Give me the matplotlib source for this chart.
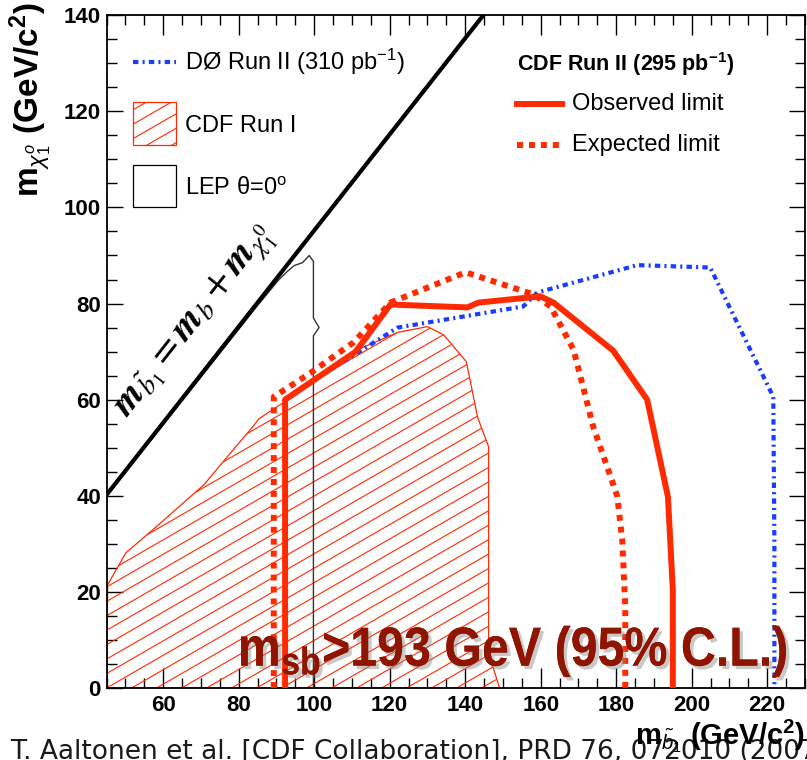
import matplotlib
matplotlib.use('Agg')
import matplotlib.pyplot as plt
import matplotlib.patheffects as pe
from matplotlib.patches import Polygon, Rectangle, PathPatch
from matplotlib.textpath import TextPath
from matplotlib.font_manager import FontProperties
from matplotlib.transforms import Affine2D, IdentityTransform
from matplotlib.ticker import MultipleLocator
import numpy as np

# fonts: Helvetica-like for everything, mathtext follows it
plt.rcParams.update({
    'font.family': ['Liberation Sans', 'DejaVu Sans'],
    'mathtext.fontset': 'custom',
    'mathtext.rm': 'Liberation Sans',
    'mathtext.it': 'Liberation Sans:italic',
    'mathtext.bf': 'Liberation Sans:bold',
})

RED = '#ff2a00'
BLUE = '#1a3cff'
DARKRED = '#8f1500'

# data (GeV/c^2)
obs_x = [92.3, 92.3, 111.0, 120.2, 140.6, 143.5, 159.9, 163.4, 179.2, 188.2, 193.7, 195.0, 195.0]
obs_y = [0, 60.0, 70.0, 79.8, 79.2, 80.2, 81.5, 80.2, 70.2, 60.0, 39.8, 20.4, 0]

exp_x = [89.3, 89.3, 99.1, 110.4, 120.2, 140.1, 158.1, 162.6, 168.7, 173.9, 178.5, 180.3, 181.6, 182.4, 182.4]
exp_y = [0, 60.6, 65.6, 71.9, 80.2, 86.5, 81.9, 79.4, 70.4, 54.4, 44.0, 39.8, 30.8, 16.9, 0]

d0_x = [93.8, 97.2, 122.1, 155.4, 159.1, 185.6, 204.9, 221.6, 221.9, 221.9]
d0_y = [60.6, 62.7, 75.0, 79.4, 82.3, 88.0, 87.5, 60.6, 30.0, 0]

run1_x = [45, 45.3, 50.1, 58.1, 70.8, 77.4, 84.0, 85.3, 91.9, 111.5, 122.1, 130.0,
          134.3, 140.3, 143.3, 146.2, 146.2, 149.1]
run1_y = [0, 21.5, 28.1, 33.5, 42.3, 48.5, 54.6, 56.0, 59.4, 70.4, 74.0, 75.2,
          73.5, 67.9, 56.3, 50.2, 7.3, 0]

lep_x = [45, 85.0, 90.7, 92.9, 94.7, 96.9, 98.7, 99.3, 99.8, 99.8, 101.3, 99.8, 99.8]
lep_y = [39.9, 79.6, 85.0, 86.7, 87.9, 88.5, 90.0, 89.3, 88.8, 77.0, 75.0, 73.3, 0]

# m_stop = m_b + m_chi
kin_x = [45, 144.8]
kin_y = [40.2, 140]

fig = plt.figure(figsize=(8.07, 7.6), dpi=100)
ax = fig.add_axes([0.132, 0.0947, 0.8655, 0.8853])
AX_W, AX_H = 0.8655 * 807, 0.8853 * 760


def hatch(patch, spacing=25, angle=30, lw=0.8):
    # slanted hatch lines clipped to a patch (spacing/angle in pixels)
    ux = np.cos(np.radians(angle)) / AX_W
    uy = np.sin(np.radians(angle)) / AX_H
    for k in np.arange(-120, 60):
        x0 = k * spacing / AX_W
        t = np.array([-3000, 3000])
        ln, = ax.plot(x0 + t * ux, t * uy, color=RED, lw=lw, transform=ax.transAxes, zorder=2)
        ln.set_clip_path(patch)


# CDF Run I excluded region
poly = Polygon(np.column_stack([run1_x, run1_y]), closed=True, fill=False,
               edgecolor=RED, lw=0.9, zorder=2)
ax.add_patch(poly)
hatch(poly)

DASHDOT = (0, (1.3, 1.0, 0.5, 1.0))
ax.plot(lep_x, lep_y, color='#333333', lw=1.0, zorder=3)
ax.plot(kin_x, kin_y, color='k', lw=3.0, zorder=3)
ax.plot(d0_x, d0_y, color=BLUE, lw=3.0, linestyle=DASHDOT, zorder=4)
ax.plot(exp_x, exp_y, color=RED, lw=4.3, linestyle=(0, (1, 1)), zorder=5)
ax.plot(obs_x, obs_y, color=RED, lw=4.3, zorder=6)

ax.set_xlim(45, 230)
ax.set_ylim(0, 140)
ax.xaxis.set_major_locator(MultipleLocator(20))
ax.xaxis.set_minor_locator(MultipleLocator(5))
ax.yaxis.set_major_locator(MultipleLocator(20))
ax.yaxis.set_minor_locator(MultipleLocator(5))
ax.tick_params(which='both', direction='in', top=True, right=True, width=1.0)
ax.tick_params(axis='x', which='major', length=14.4, pad=5)
ax.tick_params(axis='x', which='minor', length=7.2)
ax.tick_params(axis='y', which='major', length=11.5, pad=4)
ax.tick_params(axis='y', which='minor', length=7.2)
for lab in ax.get_xticklabels() + ax.get_yticklabels():
    lab.set_fontweight('bold')
    lab.set_fontsize(16)
for sp in ax.spines.values():
    sp.set_linewidth(1.3)

# legend, left block
ax.plot([0.038, 0.0995], [0.930, 0.930], color=BLUE, lw=3.0, linestyle=DASHDOT,
        transform=ax.transAxes)
ax.text(0.112, 0.930, 'DØ Run II (310 pb$^{-1}$)', fontsize=17, va='center', transform=ax.transAxes)
box = Rectangle((0.038, 0.807), 0.0615, 0.064, fill=False, edgecolor=RED, lw=0.9,
                transform=ax.transAxes)
ax.add_patch(box)
hatch(box)
ax.text(0.112, 0.836, 'CDF Run I', fontsize=17, va='center', transform=ax.transAxes)
ax.add_patch(Rectangle((0.038, 0.715), 0.0615, 0.062, fill=False, edgecolor='k', lw=0.9,
                       transform=ax.transAxes))
ax.text(0.112, 0.742, r'LEP θ=0$^{\mathrm{o}}$', fontsize=17, va='center', transform=ax.transAxes)

# legend, right block
ax.text(0.588, 0.927, r'CDF Run II (295 pb$^{\mathbf{-1}}$)', fontsize=15.5, fontweight='bold',
        va='center', transform=ax.transAxes)
ax.plot([0.588, 0.652], [0.868, 0.868], color=RED, lw=4.3, transform=ax.transAxes)
ax.text(0.666, 0.868, 'Observed limit', fontsize=17, va='center', transform=ax.transAxes)
ax.plot([0.588, 0.652], [0.807, 0.807], color=RED, lw=4.3, linestyle=(0, (1, 1)),
        transform=ax.transAxes)
ax.text(0.666, 0.807, 'Expected limit', fontsize=17, va='center', transform=ax.transAxes)

# kinematic limit label
ax.text(68.8, 76.0, r'$\mathbfit{m}_{\tilde{b}_1} = \mathbfit{m}_b + \mathbfit{m}_{\chi^0_1}$',
        fontsize=28, rotation=52, ha='center', va='center', math_fontfamily='stix', zorder=7)

# axis titles (ROOT style, right aligned)
fig.text(0.038, 0.998, r'$\mathbf{m}_{\chi^o_1}$ (GeV/c$^{\mathbf{2}}$)', fontsize=24,
         fontweight='bold', rotation=90, ha='center', va='top')

# citation, partly hidden by the x title
fig.text(0.013, 0.002, 'T. Aaltonen et al. [CDF Collaboration], PRD 76, 072010 (2007)',
         fontsize=19, family='DejaVu Sans', color='#1a1a1a', va='baseline')
fig.text(0.998, 0.031, r'$\mathbf{m}_{\tilde{b}_1}$ (GeV/c$^{\mathbf{2}}$)', fontsize=21,
         fontweight='bold', ha='right', va='center')

# headline result: bold face squeezed a little to match the condensed original
tp = TextPath((0, 0), r'm$_{\mathbf{sb}}$>193 GeV (95% C.L.)', size=55,
              prop=FontProperties(family='Liberation Sans', weight='bold'))
ext = tp.get_extents()
sx = 545.0 / ext.width
x0, y0 = ax.transData.transform((80.6, 4.6))
head = PathPatch(tp, facecolor=DARKRED, edgecolor='none', zorder=8,
                 transform=Affine2D().translate(-ext.x0, 0).scale(sx, 1.0).translate(x0, y0)
                 + IdentityTransform(),
                 path_effects=[pe.withSimplePatchShadow(offset=(2.5, -2.5), shadow_rgbFace='#888888',
                                                        alpha=0.45), pe.Normal()])
ax.add_artist(head)

fig.savefig('out.png', dpi=100)
